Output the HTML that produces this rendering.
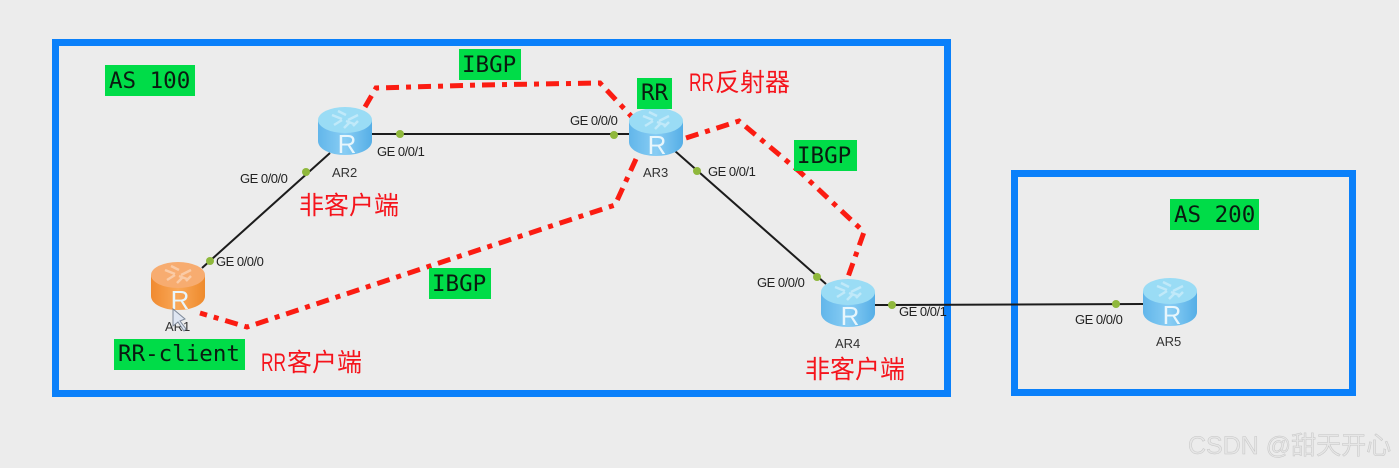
<!DOCTYPE html>
<html><head><meta charset="utf-8">
<style>
html,body{margin:0;padding:0;background:#ececec;width:1399px;height:468px;overflow:hidden}
svg{display:block}
.ge{font:13px "Liberation Sans",sans-serif;fill:#222;letter-spacing:-.5px}
.ar{font:13px "Liberation Sans",sans-serif;fill:#333}
.cn{font:25px "Liberation Sans","Noto Sans CJK SC",sans-serif;fill:#f5141c}
.mono{font:22.5px "DejaVu Sans Mono",monospace;fill:#0a1a10}
.r{font:26px "Liberation Sans",sans-serif;fill:#e8f6fc;text-anchor:middle}
.ibgp{fill:none;stroke:#fb1c12;stroke-width:5;stroke-dasharray:13 7 5 7}
.g{fill:#00dc48}
.ln{stroke:#1c1c1c;stroke-width:2;fill:none}
.d{fill:#8fb83c}
</style></head><body>
<svg width="1399" height="468" viewBox="0 0 1399 468" xmlns="http://www.w3.org/2000/svg">
<defs>
<linearGradient id="b" x1="0" x2="1" y1="0" y2="0"><stop offset="0" stop-color="#62b6ea"/><stop offset=".5" stop-color="#88cdf4"/><stop offset="1" stop-color="#55aee6"/></linearGradient>
<linearGradient id="o" x1="0" x2="1" y1="0" y2="0"><stop offset="0" stop-color="#f08a30"/><stop offset=".5" stop-color="#f9a858"/><stop offset="1" stop-color="#ee8a2c"/></linearGradient>
<g id="arrows" fill="none" stroke="#fff" stroke-opacity=".38" stroke-width="2.5"><path d="M14 8l10 4M20 4l8 4M40 8l-10 5M36 17l-8-3M26 21l6-6M16 18l8-5M40 14l-5 5"/></g>
<g id="rb"><path d="M0 13V34C0 42 12 48 27 48S54 42 54 34V13Z" fill="url(#b)"/><ellipse cx="27" cy="13" rx="27" ry="13" fill="#9adcf5"/><use href="#arrows"/></g>
<g id="ro"><path d="M0 13V34C0 42 12 48 27 48S54 42 54 34V13Z" fill="url(#o)"/><ellipse cx="27" cy="13" rx="27" ry="13" fill="#f7ac70"/><use href="#arrows"/></g>
</defs>
<rect width="1399" height="468" fill="#ececec"/>
<rect x="55.500" y="42.500" width="892" height="351" fill="none" stroke="#0a80fa" stroke-width="7"/>
<rect x="1014.500" y="173.500" width="338" height="219" fill="none" stroke="#0a80fa" stroke-width="7"/>

<path class="ln" d="M202 268L330 153M372 134H630M675 151L826 284M875 305L1143 304"/>
<circle class="d" cx="210" cy="261" r="4"/><circle class="d" cx="306" cy="172" r="4"/>
<circle class="d" cx="400" cy="134" r="4"/><circle class="d" cx="614" cy="135" r="4"/>
<circle class="d" cx="697" cy="171" r="4"/><circle class="d" cx="817" cy="277" r="4"/>
<circle class="d" cx="892" cy="305" r="4"/><circle class="d" cx="1116" cy="304" r="4"/>

<path class="ibgp" d="M365 107L376 88L480 85L600 83L632 117"/>
<path class="ibgp" d="M686 138L739 121L800 172L864 232L848 277"/>
<path class="ibgp" d="M636 159L615 205L430 266L247 327L200 313"/>

<use href="#rb" x="318" y="107"/><text class="r" x="347" y="153">R</text>
<use href="#rb" x="629" y="108"/><text class="r" x="657" y="154">R</text>
<use href="#rb" x="821" y="279"/><text class="r" x="850" y="325">R</text>
<use href="#rb" x="1143" y="278"/><text class="r" x="1172" y="324">R</text>
<use href="#ro" x="151" y="262"/><text class="r" x="180" y="309">R</text>
<text class="ar" x="165" y="331">AR1</text>
<path d="M173 309L173 326L178 322L184 331L186 329L180 321L185 319Z" fill="#dfe6f2" stroke="#7f8a9a" stroke-width="1"/>

<text class="ge" x="240" y="183">GE 0/0/0</text>
<text class="ge" x="216" y="266">GE 0/0/0</text>
<text class="ge" x="377" y="156">GE 0/0/1</text>
<text class="ge" x="570" y="125">GE 0/0/0</text>
<text class="ge" x="708" y="176">GE 0/0/1</text>
<text class="ge" x="757" y="287">GE 0/0/0</text>
<text class="ge" x="899" y="316">GE 0/0/1</text>
<text class="ge" x="1075" y="324">GE 0/0/0</text>
<text class="ar" x="332" y="177">AR2</text>
<text class="ar" x="643" y="177">AR3</text>
<text class="ar" x="835" y="348">AR4</text>
<text class="ar" x="1156" y="346">AR5</text>

<rect class="g" x="105" y="65" width="90" height="31"/><text class="mono" x="109" y="88">AS 100</text>
<rect class="g" x="1170" y="199" width="89" height="31"/><text class="mono" x="1174" y="222">AS 200</text>
<rect class="g" x="459" y="49" width="62" height="31"/><text class="mono" x="462" y="72">IBGP</text>
<rect class="g" x="794" y="140" width="63" height="31"/><text class="mono" x="797" y="163">IBGP</text>
<rect class="g" x="429" y="268" width="62" height="31"/><text class="mono" x="432" y="291">IBGP</text>
<rect class="g" x="637" y="78" width="35" height="31"/><text class="mono" x="641" y="100">RR</text>
<rect class="g" x="114" y="339" width="131" height="31"/><text class="mono" x="118" y="361">RR-client</text>

<text class="cn" x="689" y="91"><tspan textLength="25" lengthAdjust="spacingAndGlyphs">RR</tspan></text>
<text class="cn" x="715" y="91">反射器</text>
<text class="cn" x="299" y="214">非客户端</text>
<text class="cn" x="261" y="371"><tspan textLength="25" lengthAdjust="spacingAndGlyphs">RR</tspan></text>
<text class="cn" x="287" y="371">客户端</text>
<text class="cn" x="805" y="378">非客户端</text>

<text x="1188" y="454" font-family="'Liberation Sans','Noto Sans CJK SC',sans-serif" font-size="25" fill="#e6e6e6" stroke="#c6c6c6" stroke-width=".5">CSDN @甜天开心</text>
</svg>
</body></html>
